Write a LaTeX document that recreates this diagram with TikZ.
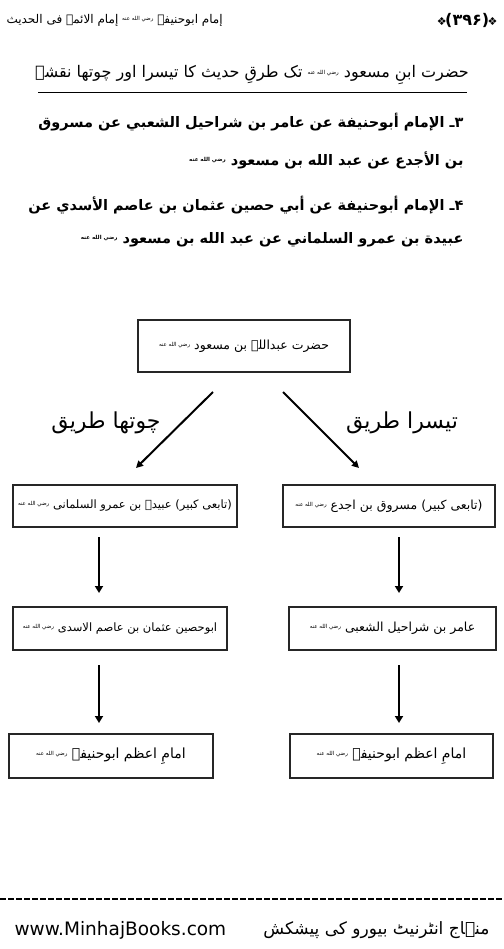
\documentclass[tikz,border=0pt]{standalone}
\usepackage{fontspec}
\usetikzlibrary{arrows.meta}
\TeXXeTstate=1
\newfontfamily\ar[Script=Arabic]{DejaVu Sans}
\newfontfamily\lat{DejaVu Sans}
\newcommand\rz{{\fontsize{5.5}{6}\selectfont\raisebox{3pt}{\beginR رضي الله عنه\endR}}}
\newcommand\rza{{\fontsize{5.5}{6}\selectfont\raisebox{4pt}{\beginR رضي الله عنه\endR}}}
\tikzset{
  box/.style={draw=black!85, line width=1.5pt, inner sep=0pt, font=\ar\fontsize{12.5}{14}\selectfont},
  arrline/.style={draw, line width=2pt, -{Triangle[width=7pt,length=7pt]}},
  varr/.style={draw, line width=2.6pt, -{Triangle[width=8pt,length=7pt]}},
  arline/.style={anchor=east, font=\ar\bfseries\fontsize{14.5}{17}\selectfont},
  lab/.style={font=\ar\fontsize{22}{24}\selectfont},
}
\begin{document}
\begin{tikzpicture}[x=1pt,y=-1pt]
\useasboundingbox (0,0) rectangle (503,949);
% header
\node[anchor=west, font=\ar\fontsize{12}{14}\selectfont] (hdr) at (3,20) {\beginR إمام ابوحنیفہ \rz\ إمام الائمۃ فی الحدیث\endR};
\node[anchor=east, font=\ar\bfseries\fontsize{16}{18}\selectfont] (pg) at (501,20) {{\fontsize{11}{11}\selectfont ❖}\kern-1.5pt(۳۹۶)\kern-1.5pt{\fontsize{11}{11}\selectfont ❖}};
% title
\node[font=\ar\fontsize{16}{18}\selectfont] (title) at (252,75) {\beginR حضرت ابنِ مسعود \rz\ تک طرقِ حدیث کا تیسرا اور چوتھا نقشہ\endR};
\draw[line width=1pt] (38,93) -- (467,93);
% arabic lines
\node[arline] (l1) at (467,122) {\beginR ۳ـ الإمام أبوحنيفة عن عامر بن شراحيل الشعبي عن مسروق\endR};
\node[arline] (l2) at (467,160) {\beginR بن الأجدع عن عبد الله بن مسعود \rza\endR};
\node[arline] (l3) at (467,205) {\beginR ۴ـ الإمام أبوحنيفة عن أبي حصين عثمان بن عاصم الأسدي عن\endR};
\node[arline] (l4) at (467,240) {\beginR عبيدة بن عمرو السلماني عن عبد الله بن مسعود \rza\endR};
% boxes
\node[box, minimum width=212pt, minimum height=52pt] (top) at (244,346) {\beginR حضرت عبداللہ بن مسعود \rz\endR};
\node[box, minimum width=224pt, minimum height=42pt, font=\ar\fontsize{11.5}{13}\selectfont] (L1) at (125,506) {\beginR (تابعی کبیر) عبیدہ بن عمرو السلمانی \rz\endR};
\node[box, minimum width=212pt, minimum height=42pt] (R1) at (389,506) {\beginR (تابعی کبیر) مسروق بن اجدع \rz\endR};
\node[box, minimum width=214pt, minimum height=43pt, font=\ar\fontsize{11.5}{13}\selectfont] (L2) at (120,628.5) {\beginR ابوحصین عثمان بن عاصم الاسدی \rz\endR};
\node[box, minimum width=207pt, minimum height=43pt] (R2) at (392.5,628.5) {\beginR عامر بن شراحیل الشعبی \rz\endR};
\node[box, minimum width=204pt, minimum height=44pt, font=\ar\fontsize{14}{16}\selectfont] (L3) at (111,756) {\beginR امامِ اعظم ابوحنیفہ \rz\endR};
\node[box, minimum width=203pt, minimum height=44pt, font=\ar\fontsize{14}{16}\selectfont] (R3) at (391.5,756) {\beginR امامِ اعظم ابوحنیفہ \rz\endR};
% labels
\node[lab] (lab4) at (106,423) {\beginR چوتھا طریق\endR};
\node[lab] (lab3) at (402,423) {\beginR تیسرا طریق\endR};
% connector ends
\coordinate (d1s) at (213,392); \coordinate (d1e) at (136,468);
\coordinate (d2s) at (283,392); \coordinate (d2e) at (359,468);
\coordinate (a1s) at (99,537); \coordinate (a1e) at (99,593);
\coordinate (a2s) at (399,537); \coordinate (a2e) at (399,593);
\coordinate (a3s) at (99,665); \coordinate (a3e) at (99,723);
\coordinate (a4s) at (399,665); \coordinate (a4e) at (399,723);
\draw[arrline] (d1s) -- (d1e);
\draw[arrline] (d2s) -- (d2e);
\draw[varr] (a1s) -- (a1e);
\draw[varr] (a2s) -- (a2e);
\draw[varr] (a3s) -- (a3e);
\draw[varr] (a4s) -- (a4e);
% footer
\draw[line width=2pt, dash pattern=on 6pt off 2pt] (0,899) -- (503,899);
\node[anchor=west, font=\lat\fontsize{18.5}{20}\selectfont] (url) at (11,930) {www.MinhajBooks.com};
\node[anchor=east, font=\ar\fontsize{17}{19}\selectfont] (pub) at (493,930) {\beginR منہاج انٹرنیٹ بیورو کی پیشکش\endR};
\end{tikzpicture}
\end{document}
